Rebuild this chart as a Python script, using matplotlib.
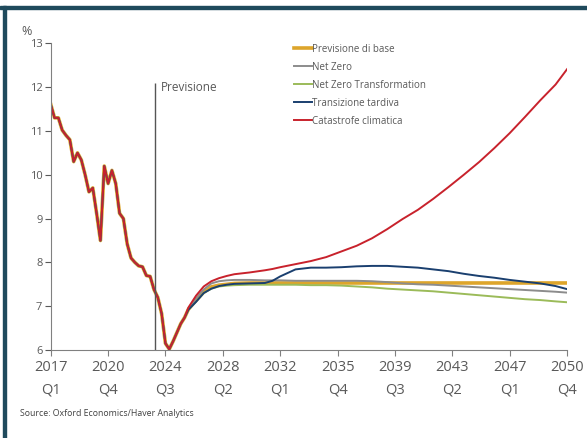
import matplotlib
matplotlib.use("Agg")
import matplotlib.pyplot as plt
from matplotlib.patches import Rectangle

plt.rcParams['font.family'] = ['Open Sans', 'DejaVu Sans']

# quarters counted from 2017Q1 (= 0)
hist_q = list(range(36))
hist_vals = [11.61, 11.30, 11.30, 11.02, 10.90, 10.80, 10.30, 10.50, 10.34, 10.00,
             9.61, 9.70, 9.12, 8.50, 10.20, 9.80, 10.10, 9.80, 9.12, 9.00,
             8.42, 8.10, 8.00, 7.92, 7.90, 7.70, 7.68, 7.38, 7.20, 6.83,
             6.15, 6.02, 6.20, 6.40, 6.60, 6.74]

scen_q = [36, 38, 40, 42, 44, 46, 48, 52, 56, 58, 60, 64, 68, 72, 76, 80, 84, 88,
          92, 96, 100, 104, 108, 112, 116, 120, 124, 128, 132, 135]

base = [6.93, 7.14, 7.32, 7.44, 7.48, 7.50, 7.52, 7.53, 7.53, 7.53, 7.53, 7.53, 7.53, 7.53,
        7.53, 7.53, 7.53, 7.53, 7.53, 7.53, 7.53, 7.53, 7.53, 7.53, 7.53, 7.53, 7.53, 7.53,
        7.53, 7.53]
net_zero = [6.95, 7.18, 7.38, 7.52, 7.57, 7.59, 7.60, 7.60, 7.59, 7.59, 7.59, 7.58, 7.58, 7.58,
            7.58, 7.58, 7.57, 7.55, 7.52, 7.50, 7.49, 7.47, 7.45, 7.43, 7.41, 7.39, 7.37, 7.35,
            7.33, 7.31]
nz_transf = [6.92, 7.10, 7.30, 7.40, 7.45, 7.47, 7.48, 7.49, 7.49, 7.49, 7.49, 7.49, 7.48, 7.48,
             7.47, 7.45, 7.43, 7.40, 7.38, 7.36, 7.34, 7.31, 7.28, 7.25, 7.22, 7.19, 7.16, 7.14,
             7.11, 7.09]
late_trans = [6.92, 7.10, 7.30, 7.40, 7.46, 7.49, 7.51, 7.52, 7.53, 7.58, 7.68, 7.84, 7.88, 7.88,
              7.89, 7.91, 7.92, 7.92, 7.90, 7.88, 7.84, 7.80, 7.74, 7.69, 7.65, 7.60, 7.56, 7.52,
              7.46, 7.39]
catastrophe = [6.97, 7.24, 7.45, 7.57, 7.64, 7.69, 7.73, 7.77, 7.82, 7.85, 7.89, 7.96, 8.03, 8.12,
               8.25, 8.38, 8.55, 8.76, 8.99, 9.20, 9.45, 9.72, 10.00, 10.29, 10.61, 10.95, 11.32,
               11.70, 12.06, 12.41]

labels = ["Previsione di base", "Net Zero", "Net Zero Transformation",
          "Transizione tardiva", "Catastrofe climatica"]
colors = ["#DDA52B", "#8C8C8C", "#9BBB59", "#1A3F6F", "#C8222C"]
widths = [2.6, 1.4, 1.4, 1.4, 1.4]

tick_pos = [0, 15, 30, 45, 60, 75, 90, 105, 120, 135]
tick_lab = ["2017\nQ1", "2020\nQ4", "2024\nQ3", "2028\nQ2", "2032\nQ1",
            "2035\nQ4", "2039\nQ3", "2043\nQ2", "2047\nQ1", "2050\nQ4"]
forecast_start = 27.3

fig = plt.figure(figsize=(5.87, 4.38), dpi=100)
ax = fig.add_axes([0.0864, 0.2009, 0.8796, 0.7001])

series = [base, net_zero, nz_transf, late_trans, catastrophe]
for vals, lab, col, lw in zip(series, labels, colors, widths):
    ax.plot(hist_q + scen_q, hist_vals + vals, color=col, lw=lw, label=lab,
            solid_joinstyle='round')

ax.vlines(forecast_start, 6, 12.1, color="#555555", lw=1)
ax.text(forecast_start + 1.5, 12.0, "Previsione", fontsize=8.5, color="#595959",
        va="center", ha="left")

ax.set_xlim(0, 135)
ax.set_ylim(6, 13)
ax.set_yticks(range(6, 14))
ax.set_xticks(tick_pos)
ax.set_xticklabels(tick_lab, fontsize=10.5, color="#595959", linespacing=1.7)
ax.tick_params(axis='y', labelsize=8, colors="#595959", length=4, width=0.8, pad=2)
ax.tick_params(axis='x', colors="#808080", length=4, width=0.8, pad=3)
for t in ax.get_xticklabels():
    t.set_color("#595959")
for t in ax.get_yticklabels():
    t.set_color("#595959")

for s in ["top", "right"]:
    ax.spines[s].set_visible(False)
for s in ["left", "bottom"]:
    ax.spines[s].set_color("#808080")
    ax.spines[s].set_linewidth(0.8)

fig.text(0.036, 0.928, "%", fontsize=9, color="#595959", va="center")

ax.legend(loc="upper left", bbox_to_anchor=(0.5, 0.9), bbox_transform=fig.transFigure,
          frameon=False, fontsize=7, handlelength=1.9, handletextpad=0.05,
          labelspacing=0.72, borderpad=0, borderaxespad=0, labelcolor="#595959")

fig.text(0.034, 0.057, "Source: Oxford Economics/Haver Analytics", fontsize=6.3,
         color="#404040", va="center")

# frame bars at top and left
fig.patches.append(Rectangle((0, 0.979), 1, 0.008, transform=fig.transFigure,
                             color="#1F4A5C", zorder=0))
fig.patches.append(Rectangle((0.005, 0), 0.006, 0.987, transform=fig.transFigure,
                             color="#1F4A5C", zorder=0))

fig.savefig("out.png", dpi=100)
